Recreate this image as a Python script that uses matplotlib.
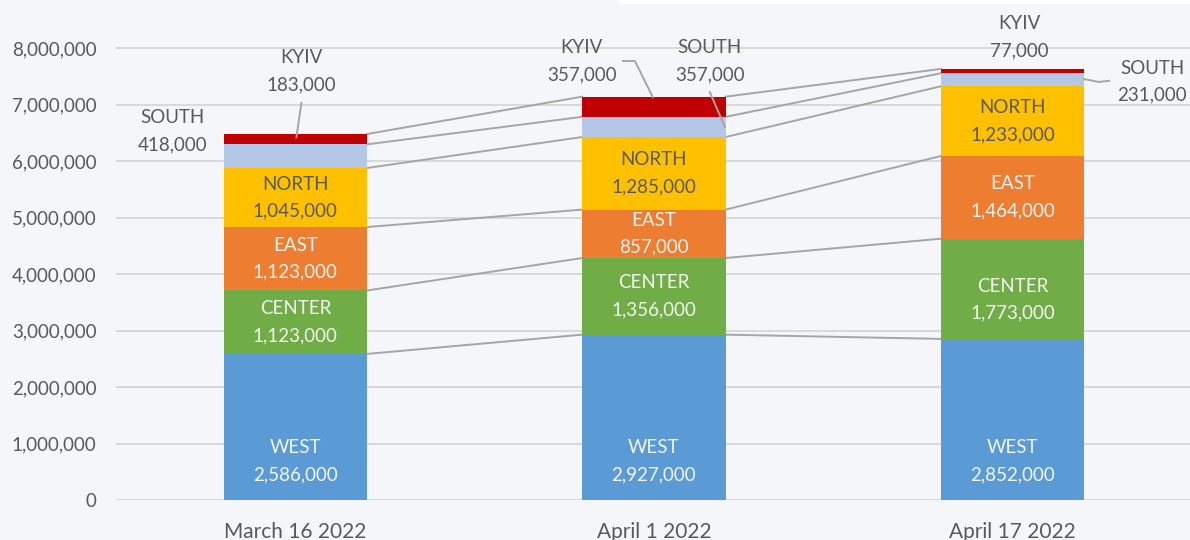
import matplotlib.pyplot as plt
import numpy as np
from matplotlib.patches import Rectangle

plt.rcParams['font.family'] = ['Lato', 'DejaVu Sans']

# ---------------- data ----------------
dates = ["March 16 2022", "April 1 2022", "April 17 2022"]
regions = ["WEST", "CENTER", "EAST", "NORTH", "SOUTH", "KYIV"]
west = [2586000, 2927000, 2852000]
center = [1123000, 1356000, 1773000]
east = [1123000, 857000, 1464000]
north = [1045000, 1285000, 1233000]
south = [418000, 357000, 231000]
kyiv = [183000, 357000, 77000]
yticks = [0, 1000000, 2000000, 3000000, 4000000, 5000000, 6000000, 7000000, 8000000]

series = [west, center, east, north, south, kyiv]
colors = ["#5B9BD5", "#70AD47", "#ED7D31", "#FFC000", "#B4C7E7", "#C00000"]
txt_colors = ["#F4F4F4", "#F4F4F4", "#F4F4F4", "#595959"]

bg = "#F5F6FA"
fig = plt.figure(figsize=(11.9, 5.4), dpi=100, facecolor=bg)
ax = fig.add_axes([0.0975, 0.074, 0.904, 0.926], facecolor=bg)

x = np.arange(len(dates))
w = 0.40
ax.set_xlim(-0.5, 2.5)
ax.set_ylim(0, 8850000)

# gridlines
ax.set_yticks(yticks)
ax.yaxis.grid(True, color="#D9D9D9", lw=1.4)
ax.set_axisbelow(True)
for s in ax.spines.values():
    s.set_visible(False)
ax.tick_params(length=0, labelcolor="#595959")
ax.tick_params(axis="y", pad=14, labelsize=13.5)
ax.tick_params(axis="x", pad=16, labelsize=15)
ax.set_yticklabels([f"{v:,}" for v in yticks])
ax.set_xticks(x)
ax.set_xticklabels(dates)

# stacked bars
lab_kw = dict(ha="center", va="center", fontsize=13.5, linespacing=1.7, zorder=5)
bottom = np.zeros(len(dates))
tops = []
for i, vals in enumerate(series):
    vals = np.array(vals)
    ax.bar(x, vals, w, bottom=bottom, color=colors[i], zorder=3)
    if i < 4:
        for j in range(len(dates)):
            ly = bottom[j] + vals[j] / 2
            if i == 0:
                ly = 690000  # west labels sit low in the bar
            if i == 1 and j == 2:
                ly -= 190000
            ax.text(x[j], ly, f"{regions[i]}\n{vals[j]:,}", color=txt_colors[i], **lab_kw)
    bottom = bottom + vals
    tops.append(bottom.copy())

# connecting lines between bar segments
for t in tops:
    for j in range(len(dates) - 1):
        ax.plot([x[j] + w / 2, x[j + 1] - w / 2], [t[j], t[j + 1]],
                color="#A5A5A5", lw=1.4, zorder=2)

# outside labels (SOUTH, KYIV): label position and leader line points
out_labels = [
    (4, 0, (-0.343, 6530000), None),
    (5, 0, (0.017, 7590000), [(0.017, 7030000), (0.003, 6420000)]),
    (5, 1, (0.799, 7770000), [(0.914, 7770000), (0.947, 7770000), (0.997, 7130000)]),
    (4, 1, (1.156, 7770000), [(1.156, 7220000), (1.198, 6600000)]),
    (5, 2, (2.019, 8190000), None),
    (4, 2, (2.39, 7400000), [(2.2, 7450000), (2.24, 7400000), (2.27, 7420000)]),
]
for si, j, (lx, ly), pts in out_labels:
    ax.text(lx, ly, f"{regions[si]}\n{series[si][j]:,}", color="#595959",
            clip_on=False, **lab_kw)
    if pts:
        xs, ys = zip(*pts)
        ax.plot(xs, ys, color="#A5A5A5", lw=1.4, zorder=5, clip_on=False)

# thin white strip at top right
fig.patches.append(Rectangle((0.52, 0.994), 0.48, 0.006, transform=fig.transFigure,
                             color="white", zorder=10))

fig.savefig("out.png", dpi=100, facecolor=bg)
